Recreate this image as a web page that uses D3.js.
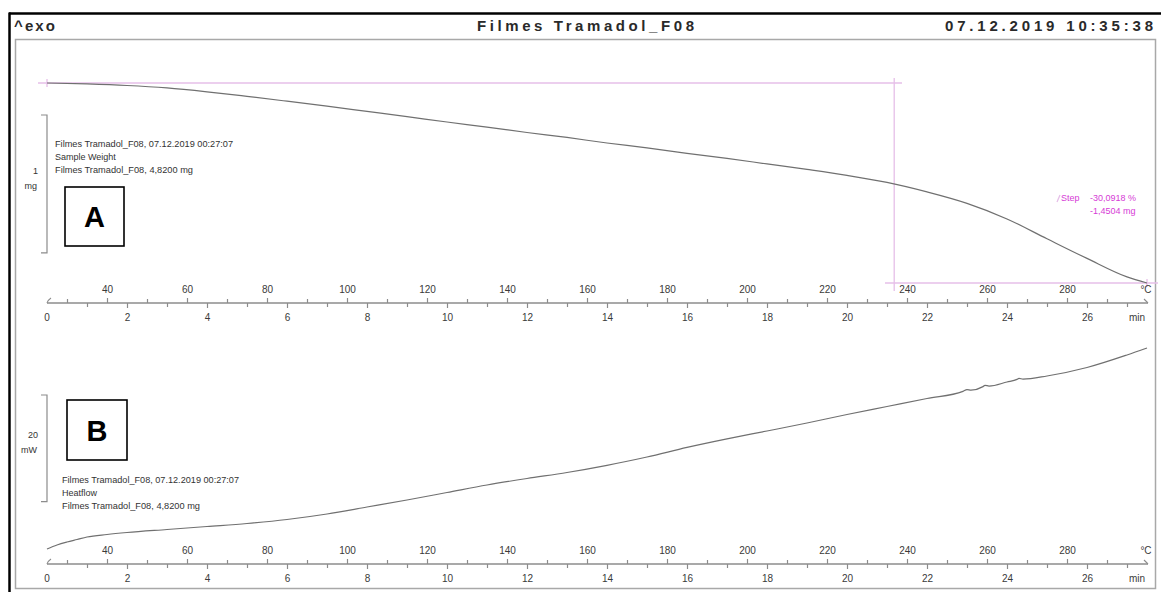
<!DOCTYPE html>
<html>
<head>
<meta charset="utf-8">
<script src="https://cdn.jsdelivr.net/npm/d3@7"></script>
<style>
  html, body { margin: 0; padding: 0; background: #fff; }
  svg { display: block; }
</style>
</head>
<body>
<svg id="chart" width="1161" height="592"></svg>
<script>
// ---- run parameters -------------------------------------------------------
const runTitle = "Filmes Tramadol_F08";
const runStamp = "07.12.2019 10:35:38";
const sampleLine = "Filmes Tramadol_F08, 07.12.2019 00:27:07";
const massLine = "Filmes Tramadol_F08, 4,8200 mg";
const tempStart = 25;      // °C at t = 0
const heatRate = 10;       // K/min
const timeRange = [0, 27.5];

// ---- axis ticks -----------------------------------------------------------
const tempMinorTicks = d3.range(30, 300, 10);
const tempLabels = [40, 60, 80, 100, 120, 140, 160, 180, 200, 220, 240, 260, 280];
const timeMinorTicks = d3.range(1, 28, 1);
const timeLabels = [0, 2, 4, 6, 8, 10, 12, 14, 16, 18, 20, 22, 24, 26];

// ---- sample weight (mg) vs time (min) -------------------------------------
const sampleMass = 4.82;
const stepPercent = "-30,0918 %";
const stepMass = -1.4504;
const tgaTime = [0, 1, 2, 3, 4, 5, 6, 7, 8, 9, 10, 11, 12, 13, 14, 15, 16, 17, 18,
                 19, 20, 21, 22, 23, 24, 25, 26, 27, 27.5];
const tgaMass = [4.820, 4.813, 4.802, 4.784, 4.756, 4.723, 4.688, 4.652, 4.614, 4.576,
                 4.537, 4.500, 4.461, 4.425, 4.385, 4.349, 4.309, 4.273, 4.233, 4.193,
                 4.150, 4.099, 4.030, 3.947, 3.834, 3.690, 3.548, 3.414, 3.3696];
const stepEndTime = 21.18;

// ---- heat flow (mW) vs time (min), exo up ---------------------------------
const dscTime = [0, 0.25, 0.5, 0.75, 1, 1.5, 2, 3, 4, 5, 6, 7, 8, 9, 10, 11, 12, 13,
                 14, 15, 16, 17, 18, 19, 20, 21, 22, 22.9, 23.0, 23.1, 23.4, 23.45,
                 23.55, 24, 24.25, 24.3, 24.4, 25, 26, 27, 27.5];
const dscHeat = [2.06, 2.81, 3.37, 3.84, 4.31, 4.78, 5.15, 5.72, 6.28, 6.84, 7.59, 8.62,
                 9.93, 11.25, 12.65, 14.06, 15.28, 16.40, 17.75, 19.30, 21.10, 22.70,
                 24.18, 25.68, 27.27, 28.77, 30.27, 31.60, 31.95, 31.85, 32.50, 32.75,
                 32.60, 33.36, 33.85, 34.05, 33.90, 34.49, 36.08, 38.43, 39.74];

// ---- drawing --------------------------------------------------------------
const svg = d3.select("#chart");
const FONT = "'Liberation Sans', Arial, sans-serif";
const axisGrey = "#8c8c8c";
const curveGrey = "#707070";
const pinkLine = "#e6bfe8";
const pinkText = "#d63bd6";

const x = d3.scaleLinear().domain(timeRange).range([47, 1147]);
const xT = d3.scaleLinear()
  .domain(timeRange.map(t => tempStart + heatRate * t))
  .range([47, 1147]);

// frames
svg.append("line").attr("x1", 9).attr("y1", 13.5).attr("x2", 1161).attr("y2", 13.5)
  .attr("stroke", "#000").attr("stroke-width", 2.5);
svg.append("line").attr("x1", 9.5).attr("y1", 12.5).attr("x2", 9.5).attr("y2", 592)
  .attr("stroke", "#000").attr("stroke-width", 2.5);
svg.append("rect").attr("x", 15.5).attr("y", 39.5).attr("width", 1140).attr("height", 549)
  .attr("fill", "none").attr("stroke", "#a8a8a8").attr("stroke-width", 1.5);

// header
const head = svg.append("g").attr("font-family", FONT).attr("font-weight", "bold")
  .attr("font-size", 15).attr("fill", "#2a2a2a");
head.append("text").attr("x", 14).attr("y", 31).attr("textLength", 41)
  .attr("lengthAdjust", "spacing").text("^exo");
head.append("text").attr("x", 477).attr("y", 31).attr("textLength", 217)
  .attr("lengthAdjust", "spacing").text(runTitle);
head.append("text").attr("x", 945).attr("y", 31).attr("textLength", 208)
  .attr("lengthAdjust", "spacing").text(runStamp);

// time / temperature axis pair
function drawAxes(yAxis) {
  const g = svg.append("g").attr("transform", `translate(0,${yAxis})`);
  g.append("line").attr("x1", x(0)).attr("x2", x(timeRange[1]) + 1)
    .attr("stroke", axisGrey).attr("stroke-width", 1.3);
  // start and end marks
  g.append("path").attr("d", `M${x(0)},0 Q${x(0) + 1},-3 ${x(0) + 4},-5`)
    .attr("fill", "none").attr("stroke", axisGrey).attr("stroke-width", 1.1);
  g.append("path").attr("d", `M${x(timeRange[1]) - 3},-4 L${x(timeRange[1]) + 1},0`)
    .attr("fill", "none").attr("stroke", axisGrey).attr("stroke-width", 1.1);

  const top = d3.axisTop(xT).tickValues(tempMinorTicks).tickSize(4).tickPadding(6)
    .tickFormat(d => tempLabels.includes(d) ? d : "");
  const bottom = d3.axisBottom(x).tickValues(timeMinorTicks).tickSize(4).tickPadding(7)
    .tickFormat(d => timeLabels.includes(d) ? d : "");
  const gt = g.append("g").call(top);
  const gb = g.append("g").call(bottom);
  [gt, gb].forEach(a => {
    a.select(".domain").remove();
    a.selectAll(".tick line").attr("stroke", axisGrey).attr("stroke-width", 1.2);
    a.selectAll(".tick text").attr("font-family", FONT).attr("font-size", 10)
      .attr("fill", "#3a3a3a");
  });
  gt.selectAll(".tick line").filter(d => tempLabels.includes(d)).attr("y2", -5);
  gb.selectAll(".tick line").filter(d => timeLabels.includes(d)).attr("y2", 5);
  // label at t = 0 (no tick there, the start mark takes its place)
  g.append("text").attr("x", x(0)).attr("y", 11).attr("dy", "0.71em")
    .attr("text-anchor", "middle").attr("font-family", FONT).attr("font-size", 10)
    .attr("fill", "#3a3a3a").text(timeLabels[0]);
  g.append("text").attr("x", 1146).attr("y", -10).attr("text-anchor", "middle")
    .attr("font-family", FONT).attr("font-size", 10).attr("fill", "#3a3a3a").text("°C");
  g.append("text").attr("x", 1137).attr("y", 11).attr("dy", "0.71em")
    .attr("text-anchor", "middle").attr("font-family", FONT).attr("font-size", 10)
    .attr("fill", "#3a3a3a").text("min");
}

// scale bar with unit label
function scaleBar(yTop, len, value, unit, yText) {
  svg.append("path")
    .attr("d", `M41,${yTop} H47 V${yTop + len} H41`)
    .attr("fill", "none").attr("stroke", axisGrey).attr("stroke-width", 1.2);
  svg.append("text").attr("x", 38).attr("y", yText).attr("text-anchor", "end")
    .attr("font-family", FONT).attr("font-size", 9).attr("fill", "#333").text(value);
  svg.append("text").attr("x", 37).attr("y", yText + 15).attr("text-anchor", "end")
    .attr("font-family", FONT).attr("font-size", 9).attr("fill", "#333").text(unit);
}

function infoLines(x0, yFirst, lines) {
  const t = svg.append("g").attr("font-family", FONT).attr("font-size", 9)
    .attr("fill", "#333");
  lines.forEach((s, i) => {
    const el = t.append("text").attr("x", x0).attr("y", yFirst + i * 13).text(s[0]);
    if (s[1]) el.attr("textLength", s[1]).attr("lengthAdjust", "spacingAndGlyphs");
  });
}

function letterBox(x0, y0, size, letter) {
  svg.append("rect").attr("x", x0).attr("y", y0).attr("width", size).attr("height", size)
    .attr("fill", "#fff").attr("stroke", "#000").attr("stroke-width", 1.6);
  svg.append("text").attr("x", x0 + size / 2).attr("y", y0 + size / 2 + 10.5)
    .attr("text-anchor", "middle").attr("font-family", FONT).attr("font-weight", "bold")
    .attr("font-size", 29).attr("fill", "#000").text(letter);
}

// ---------------- panel A : sample weight ----------------
const massEnd = sampleMass + stepMass;
const yA = d3.scaleLinear().domain([sampleMass, massEnd]).range([83, 283]);

// step evaluation lines
const pink = svg.append("g").attr("stroke", pinkLine).attr("stroke-width", 1.3).attr("fill", "none");
pink.append("line").attr("x1", 38).attr("x2", 902).attr("y1", yA(sampleMass)).attr("y2", yA(sampleMass));
pink.append("line").attr("x1", x(0)).attr("x2", x(0)).attr("y1", yA(sampleMass) - 4).attr("y2", yA(sampleMass) + 4);
pink.append("line").attr("x1", x(stepEndTime)).attr("x2", x(stepEndTime))
  .attr("y1", yA(sampleMass) - 5).attr("y2", yA(massEnd) + 8);
pink.append("line").attr("x1", 885).attr("x2", 1158).attr("y1", yA(massEnd)).attr("y2", yA(massEnd));
pink.append("line").attr("x1", x(timeRange[1])).attr("x2", x(timeRange[1]))
  .attr("y1", yA(massEnd) - 4).attr("y2", yA(massEnd) + 4);
pink.append("line").attr("x1", 1057).attr("x2", 1060).attr("y1", 202).attr("y2", 195);

const stepG = svg.append("g").attr("font-family", FONT).attr("font-size", 9).attr("fill", pinkText);
stepG.append("text").attr("x", 1061).attr("y", 201).text("Step");
stepG.append("text").attr("x", 1090).attr("y", 201).text(stepPercent);
stepG.append("text").attr("x", 1090).attr("y", 214)
  .text(`${stepMass.toFixed(4).replace(".", ",")} mg`);

const lineA = d3.line().x((d, i) => x(tgaTime[i])).y(d => yA(d)).curve(d3.curveMonotoneX);
svg.append("path").attr("d", lineA(tgaMass)).attr("fill", "none")
  .attr("stroke", curveGrey).attr("stroke-width", 1.2);

scaleBar(115, yA(sampleMass - 1) - yA(sampleMass), "1", "mg", 174);
infoLines(55, 147, [[sampleLine, 178], ["Sample Weight"], [massLine, 138]]);
letterBox(65, 187, 59, "A");
drawAxes(303);

// ---------------- panel B : heat flow ----------------
const yB = d3.scaleLinear().domain([0, 40]).range([560, 346.6]);
const lineB = d3.line().x((d, i) => x(dscTime[i])).y(d => yB(d)).curve(d3.curveMonotoneX);
svg.append("path").attr("d", lineB(dscHeat)).attr("fill", "none")
  .attr("stroke", curveGrey).attr("stroke-width", 1.2);

scaleBar(395, yB(0) - yB(20), "20", "mW", 438);
infoLines(62, 483, [[sampleLine, 177], ["Heatflow"], [massLine, 138]]);
letterBox(67, 400, 60, "B");
drawAxes(564);
</script>
</body>
</html>
